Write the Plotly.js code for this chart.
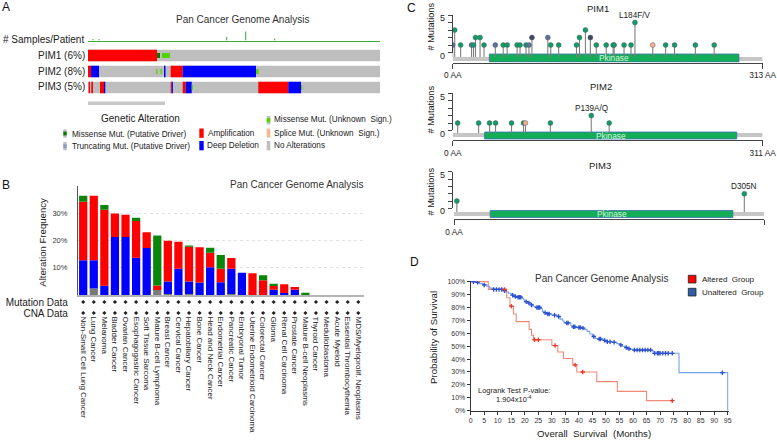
<!DOCTYPE html>
<html><head><meta charset="utf-8">
<script src="https://cdn.plot.ly/plotly-3.0.1.min.js"></script>
<style>html,body{margin:0;padding:0;background:#fff}#chart{width:777px;height:440px}</style>
</head><body><div id="chart"></div>
<script>
// ================= DATA =================
// ---- Panel A: oncoprint ----
const oncoGeneLabels = ['PIM1 (6%)', 'PIM2 (8%)', 'PIM3 (5%)'];
const oncoSamplesShown = 292;
const pim1SegStart = [0, 69, 74];
const pim1SegEnd   = [69, 72, 82];
const pim1SegType  = ['amp', 'misDriver', 'misUnknown'];
const pim2SegStart = [0, 3, 68.2, 72.5, 76, 82.7, 94.7, 168];
const pim2SegEnd   = [3, 11, 69.5, 73.8, 77.5, 94.7, 168, 170.5];
const pim2SegType  = ['amp', 'del', 'misUnknown', 'misUnknown', 'del', 'amp', 'del', 'misUnknown'];
const pim3SegStart = [0.7, 3.3, 12, 16, 82.7, 83.7, 94.7, 97.7, 103.7, 170.3, 200.3, 213];
const pim3SegEnd   = [2, 5, 16, 17.3, 83.7, 84.9, 97.7, 103.7, 104.9, 200.3, 213, 214.2];
const pim3SegType  = ['amp', 'amp', 'amp', 'del', 'amp', 'del', 'amp', 'del', 'misUnknown', 'amp', 'del', 'misUnknown'];
const samplesTrackPos = [5, 11, 138.7, 157.7, 186.7];
const samplesTrackVal = [1.5, 1.5, 3.5, 9, 2];

// ---- Panel B: alteration frequency ----
const cancerTypes = ['Non-Small Cell Lung Cancer', 'Lung Cancer', 'Melanoma', 'Bladder Cancer', 'Ovarian Cancer',
  'Esophagogastric Cancer', 'Soft Tissue Sarcoma', 'Mature B-cell Lymphoma', 'Breast Cancer', 'Cervical Cancer',
  'Hepatobiliary Cancer', 'Bone Cancer', 'Head and Neck Cancer', 'Endometrial Cancer', 'Pancreatic Cancer',
  'Embryonal Tumor', 'Uterine Endometrioid Carcinoma', 'Colorectal Cancer', 'Glioma', 'Renal Cell Carcinoma',
  'Prostate Cancer', 'Mature B-cell Neoplasms', 'Thyroid Cancer', 'Medulloblastoma', 'Acute Myeloid',
  'Essential Thrombocythemia', 'MDS/Myeloprolif. Neoplasms'];
const freqMultiple      = [0, 2.4, 0, 0, 0, 0, 0, 1.8, 0.4, 0, 0.4, 0, 0, 0, 0.4, 0, 0, 0, 0, 0, 0, 0, 0, 0, 0, 0, 0];
const freqDeletion      = [12.7, 10.3, 3.4, 21.2, 21.2, 13.6, 17.2, 0, 4.5, 9.6, 4.5, 4.6, 10.2, 4.7, 9.2, 8.1, 0, 0, 1.9, 0.7, 1.9, 0, 0, 0, 0, 0, 0];
const freqAmplification = [21.4, 23.6, 27.8, 8.6, 8.2, 13.5, 5.8, 1.7, 15.0, 9.9, 12.8, 12.9, 5.3, 4.9, 3.9, 0, 8.0, 5.4, 1.4, 3.2, 1.0, 0, 0, 0, 0, 0, 0];
const freqMutation      = [2.2, 0, 1.7, 0, 0, 1.2, 0, 18.3, 0, 0, 0.4, 0, 1.8, 5.0, 0, 0, 0, 1.8, 0.8, 0, 0, 0.8, 0, 0, 0, 0, 0];
const profileRows = ['Mutation Data', 'CNA Data'];
const bTickVals = [10, 20, 30];
const bTickText = ['10%', '20%', '30%'];

// ---- Panel C: lollipops ----
const pim1Length = 313, pim2Length = 311, pim3Length = 326;
const pim1Pkinase = [37, 289];
const pim2Pkinase = [32, 285];
const pim3Pkinase = [38, 293];
const pim1MutPos   = [0, 2, 8, 19, 21, 23, 27.6, 31.6, 43, 51, 55, 65, 68, 74, 77, 80, 96, 99, 107, 125, 128, 134, 139, 145, 155, 162, 163, 173, 180, 184, 202, 215, 224, 245, 264];
const pim1MutCount = [1, 3, 1, 1, 1, 2, 2, 1, 1, 1, 1, 1, 1, 1, 1, 2, 2, 1, 1, 1, 2, 3, 2, 1, 1, 1, 1, 1, 1, 4, 1, 1, 1, 1, 1];
const pim1MutType  = ['T', 'M', 'M', 'T', 'M', 'M', 'M', 'M', 'T', 'M', 'M', 'M', 'M', 'M', 'T', 'D', 'T', 'M', 'M', 'M', 'M', 'M', 'D', 'M', 'M', 'M', 'M', 'M', 'M', 'M', 'S', 'M', 'M', 'M', 'M'];
const pim2MutPos   = [5, 26, 37, 43, 59, 71, 73, 98, 139, 157];
const pim2MutCount = [1, 1, 1, 1, 1, 1, 1, 1, 2, 1];
const pim2MutType  = ['M', 'M', 'M', 'M', 'M', 'M', 'S', 'M', 'M', 'M'];
const pim3MutPos   = [3, 305];
const pim3MutCount = [1, 2];
const pim3MutType  = ['M', 'M'];
const pim1Hotspot = {pos: 184, count: 4, label: 'L184F/V'};
const pim2Hotspot = {pos: 139, count: 2, label: 'P139A/Q'};
const pim3Hotspot = {pos: 305, count: 2, label: 'D305N'};

// ---- Panel D: Kaplan-Meier ----
const alteredTime = [0, 6.5, 13.3, 14.5, 15.8, 16.8, 21.6, 22.5, 23.2, 30, 32.2, 34.3, 37.7, 39.2, 46.6, 54.2, 65, 74.5];
const alteredSurv = [100, 94, 87.5, 81, 75, 69, 63, 58.5, 55, 50.5, 45.5, 40.5, 35.5, 30, 22.5, 15, 7.8, 7.8];
const alteredCensorTime = [12.5, 15, 23.6, 25, 31.2, 38.6, 41.4, 74.5];
const alteredCensorSurv = [94, 81, 55, 55, 50.5, 35.5, 30, 7.8];
const unalteredTime = [0, 1.5, 3, 4.5, 6, 7, 8, 12, 13, 14, 15, 16, 17, 19, 19.5, 20, 21, 22, 23, 24, 26, 26.5, 27, 28, 30, 32, 33, 34, 34.5, 37, 37.5, 39, 41, 42, 43, 44, 45, 46, 47, 49, 50, 52, 54, 55, 56, 57, 58, 59, 60, 67, 67.5, 77, 95];
const unalteredSurv = [100, 99.5, 98.5, 97.5, 96.5, 95, 94, 93, 92, 91, 89.5, 88.5, 88, 87, 86, 84.5, 83.5, 82, 81, 80, 79, 77, 76, 75, 74, 73, 71, 69.5, 68, 66, 65, 64.5, 64, 63, 61.5, 59.5, 57.5, 56, 55.5, 54.5, 53.5, 53, 52, 51, 50, 49, 48, 47.5, 47, 46.5, 44.5, 29.5, 0];
const unalteredCensorTime = [1, 2.5, 5, 8.5, 9.5, 10.5, 11.5, 12.5, 15.5, 16.5, 17.5, 18, 18.5, 20.5, 21.5, 22.5, 24.5, 25, 25.5, 27.5, 28.5, 29, 31, 32.5, 35.5, 36, 38, 38.5, 40, 40.5, 41.5, 45.5, 47.5, 48, 49.5, 50.5, 51.5, 53, 55.5, 57.5, 58.5, 60.5, 61.5, 62.5, 63.5, 64.5, 65.5, 66.5, 68, 69, 69.5, 70, 71, 72, 73, 74.5, 93];
const unalteredCensorSurv = [100, 99.5, 97.5, 94, 94, 94, 94, 93, 89.5, 88.5, 88, 88, 88, 84.5, 83.5, 82, 80, 80, 80, 76, 75, 75, 74, 73, 68, 68, 65, 65, 64.5, 64.5, 64, 57.5, 55.5, 55.5, 54.5, 53.5, 53.5, 53, 51, 49, 48, 47, 47, 47, 47, 47, 47, 47, 44.5, 44.5, 44.5, 44.5, 44.5, 44.5, 44.5, 44.5, 29.5];
const kmXTicks = [0, 5, 10, 15, 20, 25, 30, 35, 40, 45, 50, 55, 60, 65, 70, 75, 80, 85, 90, 95];
const kmYTicks = [0, 10, 20, 30, 40, 50, 60, 70, 80, 90, 100];
const kmYText = ['0%', '10%', '20%', '30%', '40%', '50%', '60%', '70%', '80%', '90%', '100%'];

// ================= BUILD =================
const FONT = "'Liberation Sans',Arial,sans-serif";
const W = 777, H = 440;
const px = v => v / W;
const py = v => 1 - v / H;
const xdom = (a, b) => [a / W, b / W];
const ydom = (top, bottom) => [1 - bottom / H, 1 - top / H];

const traces = [];
const shapes = [];
const annotations = [];
const layout = {
  width: W, height: H, margin: {l: 0, r: 0, t: 0, b: 0},
  paper_bgcolor: '#fff', plot_bgcolor: 'rgba(0,0,0,0)',
  showlegend: false, barmode: 'overlay',
  font: {family: FONT, color: '#222'},
  shapes, annotations
};

function txt(text, x, y, size, o) {
  annotations.push(Object.assign({text, x: px(x), y: py(y), xref: 'paper', yref: 'paper', showarrow: false,
    xanchor: 'center', yanchor: 'middle', borderpad: 0, font: {size, color: '#222', family: FONT}}, o || {}));
}
function rect(x0, y0, x1, y1, color) {
  shapes.push({type: 'rect', xref: 'paper', yref: 'paper', x0: px(x0), x1: px(x1), y0: py(y1), y1: py(y0), fillcolor: color, line: {width: 0}});
}

// ---- Panel A ----
const oncoColors = {amp: '#ff0000', del: '#0000ff', misDriver: '#007a00', misUnknown: '#53d400'};
const oncoThick = {amp: 0.72, del: 0.72, misDriver: 0.3, misUnknown: 0.3};
const oncoSegs = [
  {start: pim1SegStart, end: pim1SegEnd, type: pim1SegType},
  {start: pim2SegStart, end: pim2SegEnd, type: pim2SegType},
  {start: pim3SegStart, end: pim3SegEnd, type: pim3SegType}];
traces.push({type: 'bar', orientation: 'h', xaxis: 'x', yaxis: 'y2', y: oncoGeneLabels.map((_, i) => i),
  x: oncoGeneLabels.map(() => oncoSamplesShown), base: 0, width: 0.72, marker: {color: '#bebebe', line: {width: 0}}, hoverinfo: 'skip'});
['amp', 'del', 'misDriver', 'misUnknown'].forEach(t => {
  const ys = [], xs = [], bs = [];
  oncoSegs.forEach((g, gi) => g.type.forEach((ty, k) => {
    if (ty === t) { ys.push(gi); xs.push(g.end[k] - g.start[k]); bs.push(g.start[k]); }
  }));
  traces.push({type: 'bar', orientation: 'h', xaxis: 'x', yaxis: 'y2', y: ys, x: xs, base: bs,
    width: oncoThick[t], marker: {color: oncoColors[t], line: {width: 0}}, hoverinfo: 'skip'});
});
traces.push({type: 'bar', xaxis: 'x', yaxis: 'y', x: samplesTrackPos, y: samplesTrackVal, width: 1,
  marker: {color: '#3aaa35', line: {width: 0}}, hoverinfo: 'skip'});
layout.xaxis = {domain: xdom(88, 380), range: [0, oncoSamplesShown], anchor: 'y', showline: true, linecolor: '#3aaa35',
  linewidth: 1.5, showticklabels: false, ticks: '', showgrid: false, zeroline: false};
layout.yaxis = {domain: ydom(30.5, 40.5), range: [0, 10], anchor: 'x', visible: false};
layout.yaxis2 = {domain: ydom(47.5, 95.5), range: [2.5, -0.5], anchor: 'x', visible: false};

txt('A', 6, 7, 12, {font: {size: 12, family: FONT, color: '#111'}});
txt('Pan Cancer Genome Analysis', 242.5, 19, 10, {font: {size: 10, family: FONT, color: '#333'}});
txt('# Samples/Patient', 85, 39.5, 10, {xanchor: 'right'});
oncoGeneLabels.forEach((l, i) => txt(l, 86, 55.5 + 16 * i - (i === 2 ? 0.8 : 0), 10, {xanchor: 'right'}));
shapes.push({type: 'rect', xref: 'paper', yref: 'paper', x0: px(88), x1: px(165), y0: py(105), y1: py(101.5), fillcolor: '#c8c8c8', line: {width: 0}});
txt('Genetic Alteration', 140, 118, 10);
// legend markers
rect(63.3, 129.3, 66.7, 137.7, '#bebebe'); rect(63.3, 131.6, 66.7, 135.4, '#007a00');
rect(63.3, 142, 66.7, 150.3, '#bebebe'); rect(63.3, 144.3, 66.7, 148, '#8a9bbf');
rect(199.3, 128.5, 203.7, 137.8, '#ff0000');
rect(199.3, 141, 203.7, 150.3, '#0000ff');
rect(266.7, 116, 270.3, 124.5, '#bebebe'); rect(266.7, 118.2, 270.3, 122.3, '#53d400');
rect(266.7, 128.5, 270.3, 137.5, '#f5b895');
rect(266.7, 141, 270.3, 150.3, '#bebebe');
txt('Missense Mut. (Putative Driver)', 70.7, 134, 8.2, {xanchor: 'left'});
txt('Truncating Mut. (Putative Driver)', 70.7, 146, 8.2, {xanchor: 'left'});
txt('Amplification', 207.3, 133, 8.2, {xanchor: 'left'});
txt('Deep Deletion', 205.7, 145.7, 8.2, {xanchor: 'left'});
txt('Missense Mut. (Unknown  Sign.)', 272.7, 120, 8.2, {xanchor: 'left'});
txt('Splice Mut. (Unknown  Sign.)', 272.7, 133, 8.2, {xanchor: 'left'});
txt('No Alterations', 272.7, 145.5, 8.2, {xanchor: 'left'});

// ---- Panel B ----
const bStack = [[freqMultiple, '#7a7a7a'], [freqDeletion, '#0000ff'], [freqAmplification, '#ff0000'], [freqMutation, '#0a870a']];
let cum = cancerTypes.map(() => 0);
bStack.forEach(([vals, color]) => {
  traces.push({type: 'bar', xaxis: 'x3', yaxis: 'y3', x: cancerTypes, y: vals, base: cum.slice(), width: 0.78,
    marker: {color, line: {width: 0}}, hoverinfo: 'skip'});
  cum = cum.map((c, i) => c + vals[i]);
});
profileRows.forEach(r => {
  traces.push({type: 'scatter', mode: 'markers', xaxis: 'x4', yaxis: 'y4', x: cancerTypes, y: cancerTypes.map(() => r),
    marker: {symbol: 'diamond', size: 3.2, color: '#222'}, hoverinfo: 'skip'});
});
layout.xaxis3 = {domain: xdom(77.9, 363.6), range: [-0.5, 26.5], type: 'category', anchor: 'y3', showline: true,
  linecolor: '#b4b4b4', linewidth: 2, showticklabels: false, ticks: '', showgrid: false, zeroline: false};
layout.yaxis3 = {domain: ydom(186, 295), range: [0, 39.9], anchor: 'x3', showline: true, linecolor: '#555', linewidth: 1,
  tickmode: 'array', tickvals: bTickVals, ticktext: bTickText, tickfont: {size: 7.5, color: '#333'}, ticks: '', ticklabelstandoff: 8,
  showgrid: true, gridcolor: '#e2e2e2', griddash: 'dot', zeroline: false};
layout.xaxis4 = {domain: xdom(77.9, 363.6), range: [-0.5, 26.5], type: 'category', anchor: 'free', position: py(315.5),
  tickmode: 'array', tickvals: cancerTypes, ticktext: cancerTypes,
  showline: false, ticks: '', tickangle: 90, tickfont: {size: 8, color: '#222'}, showgrid: false, zeroline: false};
layout.yaxis4 = {domain: ydom(296.5, 318.5), type: 'category', categoryorder: 'array', categoryarray: profileRows,
  tickmode: 'array', tickvals: profileRows, ticktext: profileRows,
  range: [1.5, -0.5], anchor: 'x4', showline: false, ticks: '', tickfont: {size: 10, color: '#222'}, ticklabelstandoff: 9,
  showgrid: false, zeroline: false};
txt('B', 6, 184.5, 12, {font: {size: 12, family: FONT, color: '#111'}});
txt('Pan Cancer Genome Analysis', 296, 185, 10, {font: {size: 10, family: FONT, color: '#333'}});
txt('Alteration Frequency', 41.7, 242, 9.6, {textangle: -90});

// ---- Panel C ----
const mutColors = {M: '#169a63', T: '#5e7196', D: '#3c4a5e', S: '#f3ab8c'};
function lollipop(p) {
  const cOf = v => (p.zero - v) / p.ppu;
  const xa = 'x' + p.xi, ya = 'y' + p.yi, ca = 'y' + (p.yi + 1);
  layout['xaxis' + p.xi] = {domain: xdom(p.x0, p.x1), range: [0, p.len], anchor: ya, showline: true, linecolor: '#444',
    linewidth: 1, ticks: 'outside', ticklen: 5, tickcolor: '#444', tickmode: 'array', tickvals: [0, p.len], ticktext: ['0 AA', p.len + ' AA'],
    tickfont: {size: 8.3, color: '#222'}, showgrid: false, zeroline: false};
  layout['yaxis' + p.yi] = {domain: ydom(p.top, p.axisY), range: [cOf(p.axisY), cOf(p.top)], anchor: xa, visible: false};
  layout['yaxis' + (p.yi + 1)] = {domain: ydom(p.zero - 5 * p.ppu, p.zero), range: [0, 5], anchor: 'free',
    position: px(451.7), showline: true, linecolor: '#444', linewidth: 1, ticks: 'outside', ticklen: 4, tickcolor: '#444',
    tickmode: 'array', tickvals: [0, 1, 2, 3, 4, 5], ticktext: ['0', ' ', ' ', ' ', ' ', '5'], tickfont: {size: 9, color: '#222'},
    ticklabelshift: 3, ticklabelstandoff: 1, showgrid: false, zeroline: false};
  shapes.push({type: 'rect', xref: xa, yref: ya, x0: 0, x1: p.len, y0: cOf(p.barBot), y1: cOf(p.barTop),
    fillcolor: '#c6c6c6', line: {width: 0}, layer: 'below'});
  shapes.push({type: 'rect', xref: xa, yref: ya, x0: p.dom[0], x1: p.dom[1], y0: cOf(p.pkBot), y1: cOf(p.pkTop),
    fillcolor: '#13ad57', line: {color: '#3f6fb5', width: 0.8}, layer: 'below'});
  annotations.push({xref: xa, yref: ya, x: (p.dom[0] + p.dom[1]) / 2, y: cOf((p.pkTop + p.pkBot) / 2), text: 'Pkinase',
    showarrow: false, font: {size: 8.3, color: '#d8f6dc', family: FONT}});
  const sx = [], sy = [];
  p.pos.forEach((x, i) => { sx.push(x, x, null); sy.push(cOf(p.barTop), p.count[i], null); });
  traces.push({type: 'scatter', mode: 'lines', xaxis: xa, yaxis: ya, x: sx, y: sy, line: {color: '#7f7f7f', width: 1.1}, hoverinfo: 'skip'});
  traces.push({type: 'scatter', mode: 'markers', xaxis: xa, yaxis: ca, x: p.pos, y: p.count,
    marker: {size: 5, color: p.type.map(t => mutColors[t]), line: {color: '#4a5a6a', width: 0.4}}, hoverinfo: 'skip'});
  annotations.push({xref: xa, yref: ca, x: p.hot.pos, y: p.hot.count, yshift: 7, text: p.hot.label, showarrow: false,
    font: {size: 8.2, color: '#222', family: FONT}});
  txt(p.title, p.titleX, p.titleY, 9.5);
  txt('# Mutations', 430.5, p.ylabY, 9.2, {textangle: -90});
}
lollipop({xi: 5, yi: 5, len: pim1Length, dom: pim1Pkinase, pos: pim1MutPos, count: pim1MutCount, type: pim1MutType, hot: pim1Hotspot,
  x0: 452.7, x1: 762.7, zero: 52.5, ppu: 7.5, top: 10, axisY: 62.5, barTop: 57, barBot: 61, pkTop: 54, pkBot: 62,
  title: 'PIM1', titleX: 597.8, titleY: 8.3, ylabY: 27});
lollipop({xi: 6, yi: 7, len: pim2Length, dom: pim2Pkinase, pos: pim2MutPos, count: pim2MutCount, type: pim2MutType, hot: pim2Hotspot,
  x0: 452.7, x1: 762.7, zero: 130.4, ppu: 7.4, top: 96, axisY: 140, barTop: 133, barBot: 137, pkTop: 132, pkBot: 139,
  title: 'PIM2', titleX: 601, titleY: 86.7, ylabY: 110});
lollipop({xi: 7, yi: 9, len: pim3Length, dom: pim3Pkinase, pos: pim3MutPos, count: pim3MutCount, type: pim3MutType, hot: pim3Hotspot,
  x0: 454, x1: 764.3, zero: 208.3, ppu: 7.3, top: 172, axisY: 219.3, barTop: 212, barBot: 216, pkTop: 210.5, pkBot: 217.5,
  title: 'PIM3', titleX: 600, titleY: 165.5, ylabY: 192});
txt('C', 411.7, 7.5, 12, {font: {size: 12, family: FONT, color: '#111'}});

// ---- Panel D ----
traces.push({type: 'scatter', mode: 'lines', xaxis: 'x8', yaxis: 'y11', x: unalteredTime, y: unalteredSurv,
  line: {shape: 'hv', color: '#74a3ea', width: 1.1}, hoverinfo: 'skip'});
traces.push({type: 'scatter', mode: 'lines', xaxis: 'x8', yaxis: 'y11', x: alteredTime, y: alteredSurv,
  line: {shape: 'hv', color: '#f08a78', width: 1.1}, hoverinfo: 'skip'});
traces.push({type: 'scatter', mode: 'markers', xaxis: 'x8', yaxis: 'y11', x: unalteredCensorTime, y: unalteredCensorSurv,
  marker: {symbol: 'cross-thin', size: 3.2, line: {width: 1.3, color: '#2a4fcf'}}, hoverinfo: 'skip'});
traces.push({type: 'scatter', mode: 'markers', xaxis: 'x8', yaxis: 'y11', x: alteredCensorTime, y: alteredCensorSurv,
  marker: {symbol: 'cross-thin', size: 3.2, line: {width: 1.3, color: '#e8382a'}}, hoverinfo: 'skip'});
layout.xaxis8 = {domain: xdom(470.7, 728.8), range: [0, 95.4], anchor: 'y11', showline: true, linecolor: '#333', linewidth: 1,
  ticks: 'outside', ticklen: 3, tickcolor: '#333', tickmode: 'array', tickvals: kmXTicks, tickfont: {size: 7, color: '#333'},
  ticklabelstandoff: 0, showgrid: false, zeroline: false};
layout.yaxis11 = {domain: ydom(280.9, 410.7), range: [0, 100.6], anchor: 'x8', showline: true, linecolor: '#333', linewidth: 1,
  ticks: 'outside', ticklen: 3, tickcolor: '#333', tickmode: 'array', tickvals: kmYTicks, ticktext: kmYText, tickfont: {size: 7, color: '#333'},
  showgrid: false, zeroline: false};
txt('D', 414, 262, 12, {font: {size: 12, family: FONT, color: '#111'}});
txt('Pan Cancer Genome Analysis', 601.7, 278.5, 10, {font: {size: 10, family: FONT, color: '#333'}});
shapes.push({type: 'rect', xref: 'paper', yref: 'paper', x0: px(688.3), x1: px(696), y0: py(283), y1: py(275.3), fillcolor: '#ff0000', line: {color: '#222', width: 0.8}});
shapes.push({type: 'rect', xref: 'paper', yref: 'paper', x0: px(688.3), x1: px(696), y0: py(296), y1: py(288.3), fillcolor: '#2f5ea8', line: {color: '#222', width: 0.8}});
txt('Altered  Group', 700.7, 279, 8, {xanchor: 'left'});
txt('Unaltered  Group', 700.7, 292.3, 8, {xanchor: 'left'});
txt('Probability of Survival', 433, 338, 9.7, {textangle: -90});
txt('Overall  Survival  (Months)', 593.5, 433.5, 9.7);
txt('Logrank Test P-value:', 513.5, 390, 7.5);
txt('1.904x10<sup>-4</sup>', 514, 398.5, 7.5);

Plotly.newPlot('chart', traces, layout, {displayModeBar: false, staticPlot: true});
</script>
</body></html>
